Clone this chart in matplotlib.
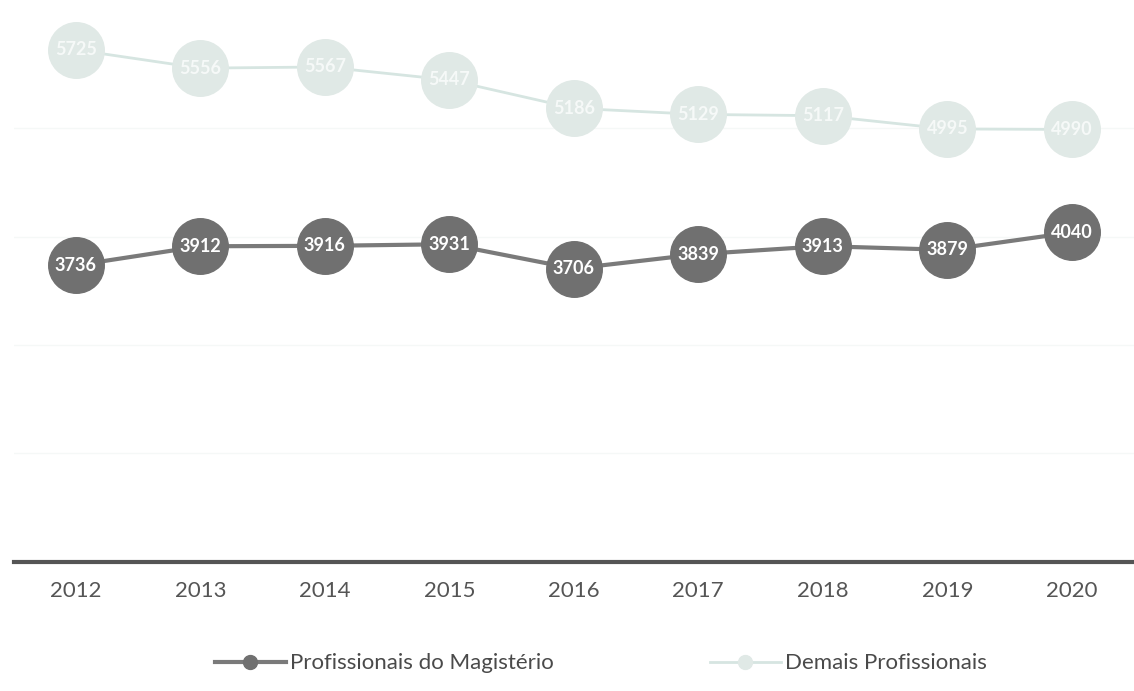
import numpy as np
import matplotlib.pyplot as plt

# dados
anos = ['2012', '2013', '2014', '2015', '2016', '2017', '2018', '2019', '2020']
magisterio = [3736, 3912, 3916, 3931, 3706, 3839, 3913, 3879, 4040]
demais = [5725, 5556, 5567, 5447, 5186, 5129, 5117, 4995, 4990]

plt.rcParams['font.family'] = ['Lato', 'DejaVu Sans']

fig = plt.figure(figsize=(11.34, 6.91), dpi=100)
ax = fig.add_axes([0.012, 0.187, 0.988, 0.784])

x = np.arange(len(anos))

# grade quase invisivel
for v in [2000, 3000, 4000, 5000]:
    ax.axhline(v, color='#f5f8f7', lw=1, zorder=0)

ax.plot(x, demais, color='#d6e5e1', lw=2, marker='o', markersize=40,
        markerfacecolor='#e0e9e6', markeredgecolor='#e0e9e6',
        label='Demais Profissionais', zorder=2)
ax.plot(x, magisterio, color='#7a7a7a', lw=3, marker='o', markersize=40,
        markerfacecolor='#707070', markeredgecolor='#707070',
        label='Profissionais do Magistério', zorder=3)

for i in range(len(anos)):
    ax.text(x[i], magisterio[i], str(magisterio[i]), ha='center', va='center',
            color='white', fontsize=13, fontweight='bold', zorder=4)
    ax.text(x[i], demais[i], str(demais[i]), ha='center', va='center',
            color='#f6f9f8', fontsize=13, fontweight='bold', zorder=4)

ax.set_xlim(-0.5, 8.5)
ax.set_ylim(1000, 6000)
ax.set_xticks(x)
ax.set_xticklabels(anos, fontsize=16, color='#555555')
ax.set_yticks([])
ax.tick_params(axis='x', length=0, pad=14)
for s in ['top', 'right', 'left']:
    ax.spines[s].set_visible(False)
ax.spines['bottom'].set_color('#555555')
ax.spines['bottom'].set_linewidth(3)

handles, labels = ax.get_legend_handles_labels()
leg = fig.legend(handles[::-1], labels[::-1], loc='center', ncol=2,
                 bbox_to_anchor=(0.53, 0.04), frameon=False, fontsize=16,
                 markerscale=0.25, handlelength=3.2, columnspacing=7,
                 handletextpad=0.2)
for t in leg.get_texts():
    t.set_color('#4a4a4a')

fig.savefig('out.png', dpi=100, facecolor='white')
